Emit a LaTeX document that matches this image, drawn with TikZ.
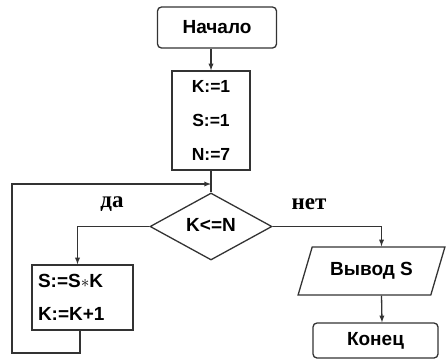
\documentclass[tikz,border=0pt]{standalone}
\usepackage{fontspec}
\setmainfont{Liberation Sans}
\newfontfamily\romain{Liberation Serif}
\usetikzlibrary{shapes.geometric}

\begin{document}
\begin{tikzpicture}[x=1pt,y=-1pt]
% Styles
\tikzstyle{trait}=[line width=1.3pt,draw=black!80]
\tikzstyle{fleche}=[trait,->,>=latex]
\tikzstyle{texte}=[font=\fontsize{19}{22}\selectfont\bfseries]
\tikzstyle{terminal}=[trait,texte,rounded corners=4pt,inner sep=0pt]
\tikzstyle{bloc}=[trait,texte,inner sep=0pt]
\tikzstyle{test}=[trait,texte,diamond,aspect=1.8,inner sep=0pt]
\tikzstyle{sortie}=[trait,texte,trapezium,trapezium left angle=60,trapezium right angle=120,trapezium stretches=true,inner sep=0pt]
\tikzstyle{reponse}=[font=\fontsize{23}{24}\selectfont\romain\bfseries]
\useasboundingbox (0,0) rectangle (446,360);
% Noeuds
\node[terminal,minimum width=119pt,minimum height=41pt] (debut) at (217,27.5) {Начало};
\node[bloc,minimum width=78pt,minimum height=99pt,align=center,font=\fontsize{17.5}{20}\selectfont\bfseries] (init) at (211,120.5) {K:=1\\[14pt]S:=1\\[14pt]N:=7};
\node[test,minimum width=122pt,minimum height=67pt] (cond) at (211,226.5) {\raisebox{3pt}{K<=N}};
\node[bloc,minimum width=101pt,minimum height=65pt,text width=89pt,inner xsep=6pt,align=left] (corps) at (82.5,297.5) {S:=S$\ast$K\\[11pt]K:=K+1};
\node[sortie,minimum width=147pt,minimum height=48pt] (affiche) at (371.5,271) {Вывод S};
\node[terminal,minimum width=125pt,minimum height=35pt] (fin) at (375.5,340.5) {Конец};
\node[reponse] (oui) at (112,204) {да};
\node[reponse] (non) at (309,204) {нет};
% Points de passage
\coordinate (jonction) at (211,184);
\coordinate (bas) at (80,353);
\coordinate (gauche) at (12,353);
% Arcs
\draw[fleche] (debut.south -| init.north) -- (init.north);
\draw[trait] (init.south) -- (cond.north);
\draw[fleche] (cond.west) -| ([xshift=-5pt]corps.north);
\draw[fleche] (cond.east) -| ([xshift=10pt]affiche.north);
\draw[fleche] ([xshift=10pt]affiche.south) -- ([xshift=6.5pt]fin.north);
\draw[fleche] ([xshift=-2.5pt]corps.south) -- (bas) -- (gauche) |- (jonction);
\end{tikzpicture}
\end{document}
